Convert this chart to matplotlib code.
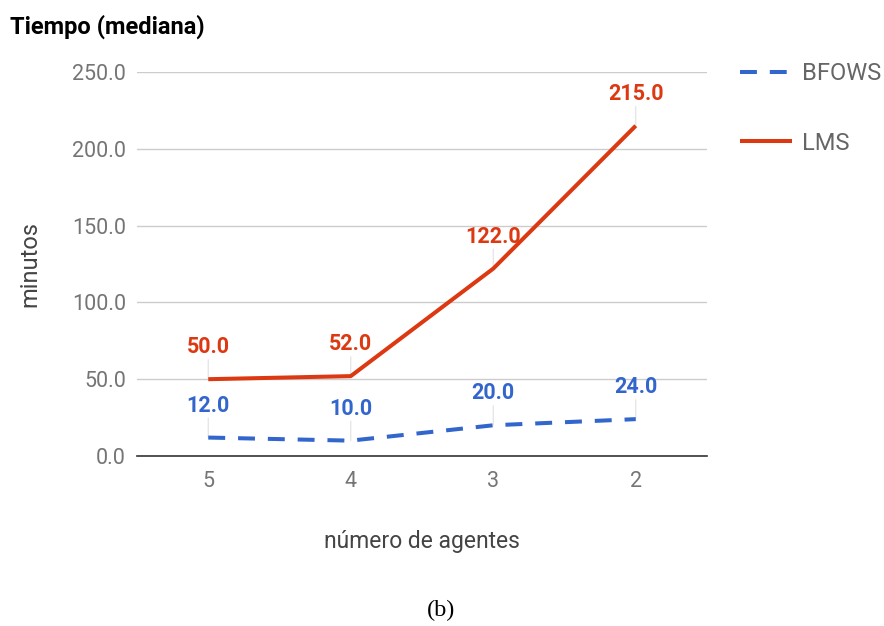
import numpy as np
import matplotlib.pyplot as plt

plt.rcParams['font.family'] = ['Roboto', 'DejaVu Sans']

agents = ["5", "4", "3", "2"]
bfows = [12.0, 10.0, 20.0, 24.0]
lms = [50.0, 52.0, 122.0, 215.0]
yticks = [0, 50, 100, 150, 200, 250]

BLUE = "#3366CC"
RED = "#DC3912"
GREY = "#757575"

fig = plt.figure(figsize=(8.84, 6.26), dpi=100)
ax = fig.add_axes([137/884, 1 - 456/626, (707-137)/884, (456-72)/626])

x = np.arange(len(agents))
ax.plot(x, lms, color=RED, lw=2.9, solid_capstyle="butt", label="LMS", zorder=3)
ax.plot(x, bfows, color=BLUE, lw=2.9, dashes=(4.2, 3.2), label="BFOWS", zorder=3)

# data labels with small leader lines
for series, col in [(lms, RED), (bfows, BLUE)]:
    for xi, v in zip(x, series):
        ax.annotate(f"{v:.1f}", (xi, v), xytext=(0, 15), textcoords="offset points",
                    ha="center", va="bottom", color=col, fontsize=15.5,
                    fontweight="bold", zorder=4)
        ax.annotate("", (xi, v), xytext=(0, 14), textcoords="offset points",
                    arrowprops=dict(arrowstyle="-", color="#e0e0e0", lw=0.8,
                                    shrinkA=0, shrinkB=0), zorder=2)

ax.set_xlim(-0.5, 3.5)
ax.set_ylim(0, 250)
ax.set_xticks(x)
ax.set_xticklabels(agents)
ax.set_yticks(yticks)
ax.set_yticklabels([f"{t:.1f}" for t in yticks])
ax.tick_params(length=0, labelsize=15.5, labelcolor=GREY)
ax.tick_params(axis="y", pad=8)
ax.tick_params(axis="x", pad=11)
ax.grid(axis="y", color="#cccccc", lw=1)
for s in ["top", "right", "left"]:
    ax.spines[s].set_visible(False)
ax.spines["bottom"].set_color("#333333")
ax.spines["bottom"].set_linewidth(1.2)
ax.set_axisbelow(True)

ax.set_xlabel("número de agentes", fontsize=16.5, color="#444444", labelpad=27)
ax.set_ylabel("minutos", fontsize=17, color="#444444", labelpad=22)

fig.text(10/884, 1 - 27/626, "Tiempo (mediana)", fontsize=17, fontweight="bold",
         va="center", ha="left")
fig.text(441/884, 1 - 610/626, "(b)", fontsize=17.5, family="Liberation Serif",
         va="center", ha="center")

h, l = ax.get_legend_handles_labels()
leg = fig.legend(h[::-1], l[::-1], loc="upper left", bbox_to_anchor=(740/884, 1 - 62/626),
                 frameon=False, fontsize=17, handlelength=2.2, labelspacing=1.98,
                 handletextpad=0.42, borderpad=0, borderaxespad=0,
                 labelcolor="#666666")

fig.savefig("out.png", dpi=100)
